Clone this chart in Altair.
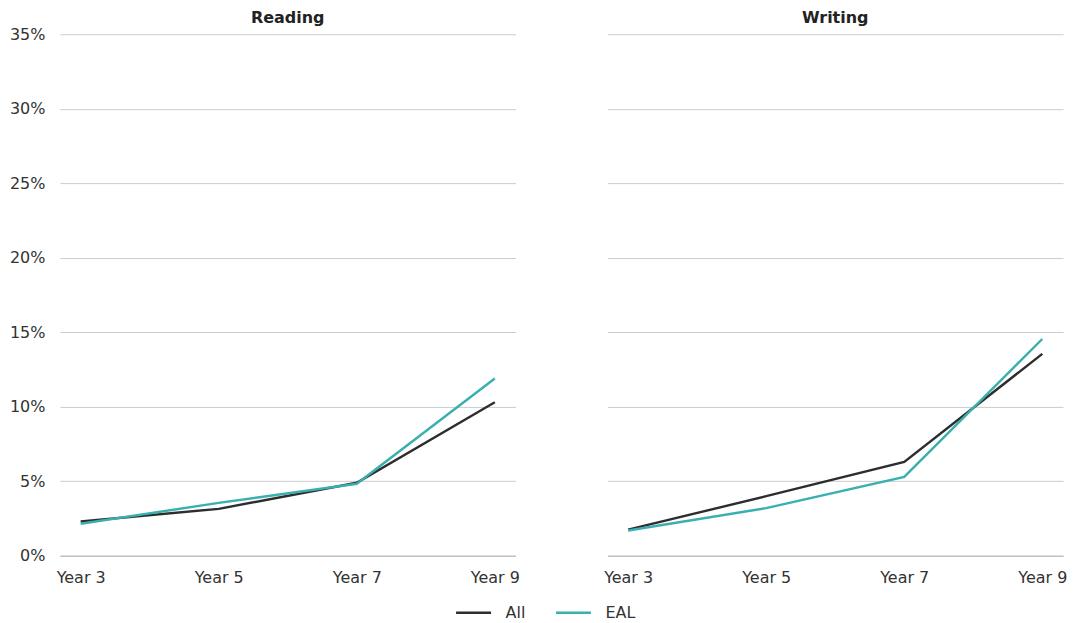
import altair as alt
import pandas as pd

years = ["Year 3", "Year 5", "Year 7", "Year 9"]
subjects = ["Reading", "Writing"]
groups = ["All", "EAL"]

reading_all = [0.023, 0.0315, 0.049, 0.103]
reading_eal = [0.0215, 0.0355, 0.0483, 0.119]
writing_all = [0.0175, 0.040, 0.063, 0.1355]
writing_eal = [0.017, 0.032, 0.053, 0.1455]

rows = []
for subj, series in [("Reading", {"All": reading_all, "EAL": reading_eal}),
                     ("Writing", {"All": writing_all, "EAL": writing_eal})]:
    for g in groups:
        for y, v in zip(years, series[g]):
            rows.append({"subject": subj, "year": y, "group": g, "value": v})
df = pd.DataFrame(rows)

font = "DejaVu Sans"

chart = alt.Chart(df).mark_line(strokeWidth=2.4).encode(
    x=alt.X("year:N", sort=years, title=None,
            scale=alt.Scale(type="point", padding=0.15),
            axis=alt.Axis(labelAngle=0, ticks=False, domain=True, domainColor="#888888",
                          labelFontSize=16, labelColor="#333333", labelPadding=14, grid=False)),
    y=alt.Y("value:Q", title=None,
            scale=alt.Scale(domain=[0, 0.35]),
            axis=alt.Axis(format=".0%", values=[0, 0.05, 0.1, 0.15, 0.2, 0.25, 0.3, 0.35],
                          ticks=False, domain=False, gridColor="#cccccc",
                          labelFontSize=16, labelColor="#333333", labelPadding=15)),
    color=alt.Color("group:N", sort=groups, title=None,
                    scale=alt.Scale(domain=groups, range=["#2d2d2d", "#3aafaf"]),
                    legend=alt.Legend(orient="none", legendX=395, legendY=560, direction="horizontal",
                                      symbolType="stroke", symbolSize=1225, symbolStrokeWidth=2.5,
                                      labelOffset=13, labelFontSize=16, labelColor="#333333",
                                      columnPadding=25)),
).properties(width=456, height=522).facet(
    column=alt.Column("subject:N", sort=subjects, title=None,
                      header=alt.Header(labelFontWeight="bold", labelFontSize=16,
                                        labelColor="#222222", labelPadding=8, labelFont=font)),
    spacing=92,
).properties(padding={"left": 1, "top": 2, "right": 5, "bottom": 5}
).configure(font=font).configure_view(stroke=None).configure_axis(labelFont=font).configure_legend(labelFont=font)

chart.save("out.html", embed_options={"renderer": "svg", "actions": False})
